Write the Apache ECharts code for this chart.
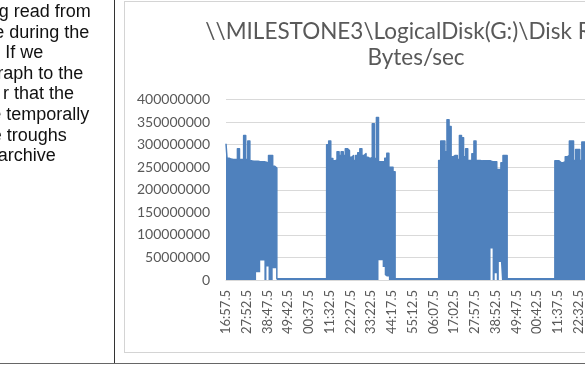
<!DOCTYPE html>
<html><head><meta charset="utf-8">
<script src="https://cdn.jsdelivr.net/npm/echarts@6/dist/echarts.min.js"></script>
<style>
html,body{margin:0;padding:0;width:585px;height:367px;overflow:hidden;background:#fff;position:relative}
#frame{position:absolute;left:124px;top:1px;width:700px;height:352px;border:1px solid #d4d4d4;box-sizing:border-box}
#chart{position:absolute;left:0;top:0;width:600px;height:367px}
#vline{position:absolute;left:114px;top:0;width:1px;height:364px;background:#333}
#hline{position:absolute;left:0;top:363px;width:585px;height:1px;background:#666}
.t{position:absolute;font-family:"Liberation Sans",Arial,sans-serif;font-size:18px;color:#111;white-space:nowrap;line-height:20px}
</style></head>
<body>
<div id="frame"></div>
<div id="chart"></div>
<div id="vline"></div>
<div id="hline"></div>
<div id="txt"></div>
<script>
// Left cell text fragments (visible parts) and where each line ends
const textLines = ['g read from', 'e during the', 'If we', 'raph to the', 'r that the', 'e temporally', 'e troughs', 'archive'];
const textEnds = [90.7, 89.3, 43.3, 83.3, 74, 89.3, 66.7, 55.7];

// Chart title and axis tick labels
const titleText = '\\\\MILESTONE3\\LogicalDisk(G:)\\Disk Read\nBytes/sec';
const tickLabels = ['16:57.5','27:52.5','38:47.5','49:42.5','00:37.5','11:32.5','22:27.5','33:22.5','44:17.5','55:12.5','06:07.5','17:02.5','27:57.5','38:52.5','49:47.5','00:42.5','11:37.5','22:32.5'];
const yTicks = [0, 50000000, 100000000, 150000000, 200000000, 250000000, 300000000, 350000000, 400000000];

// Disk Read Bytes/sec envelope, in millions (upper = peaks, lower = troughs)
const burst1High = [302,270,268,267,267,267,291,267,267,320,267,308,264,263,263,263,262,262,262,261,259,276,276,252,248];
const burst1Low  = [0,0,0,0,0,0,0,0,0,0,0,0,0,0,0,17,17,43,43,0,30,0,0,26,26];
const idle1High  = [3,3,3,3,3,3,3,3,3,3,3,3,3,3,3,3,3,3,3,3,3,3,3,3];
const idle1Low   = [0,0,0,0,0,0,0,0,0,0,0,0,0,0,0,0,0,0,0,0,0,0,0,0];
const burst2High = [300,308,269,264,266,284,276,284,276,291,287,272,276,265,276,282,291,276,280,272,269,272,346,269,360,262,262,262,270,281,250,250,240];
const burst2Low  = [0,0,0,0,0,0,0,0,0,0,0,0,0,0,0,0,0,0,0,0,0,0,0,0,0,44,44,29,11,8,0,0,0];
const idle2High  = [3,3,3,3,3,3,3,3,3,3,3,3,3,3,3,3,3,3,3,3,3];
const idle2Low   = [0,0,0,0,0,0,0,0,0,0,0,0,0,0,0,0,0,0,0,0,0];
const burst3High = [265,308,308,284,355,340,273,276,276,267,320,315,273,291,265,265,280,308,265,265,264,264,264,264,264,262,262,262,245,245,260,276,276];
const burst3Low  = [0,0,0,0,0,0,0,0,0,0,0,0,0,0,0,0,0,0,0,0,0,0,0,0,0,70,0,15,0,40,0,0,0];
const idle3High  = [3,3,3,3,3,3,3,3,3,3,3,3,3,3,3,3,3,3,3,3,3,3,3];
const idle3Low   = [0,0,0,0,0,0,0,0,0,0,0,0,0,0,0,0,0,0,0,0,0,0,0];
const burst4High = [264,264,260,260,262,273,276,308,308,265,289,289,265,306,306,306,270];
const burst4Low  = [0,0,0,0,0,0,0,0,0,0,0,0,0,0,0,0,0];

// left-cell text
const txt = document.getElementById('txt');
textLines.forEach((s, i) => {
  const d = document.createElement('div');
  d.className = 't';
  d.textContent = s;
  d.style.right = (585 - textEnds[i]) + 'px';
  d.style.top = (1 + 20.6 * i) + 'px';
  txt.appendChild(d);
});

const M = 1000000;
const high = [].concat(burst1High, idle1High, burst2High, idle2High, burst3High, idle3High, burst4High).map(v => v * M);
const low = [].concat(burst1Low, idle1Low, burst2Low, idle2Low, burst3Low, idle3Low, burst4Low).map(v => v * M);
const band = high.map((h, i) => h - low[i]);

// categories: 65.5 s steps, every 10th one is a shown tick label
const startSec = 16 * 60 + 57.5;
const categories = high.map((_, i) => {
  if (i % 10 === 0 && tickLabels[i / 10]) return tickLabels[i / 10];
  const s = (startSec + i * 65.5) % 3600;
  const mm = Math.floor(s / 60), ss = s - mm * 60;
  return String(mm).padStart(2, '0') + ':' + ss.toFixed(1).padStart(4, '0');
});

const chart = echarts.init(document.getElementById('chart'), null, {renderer: 'canvas'});
const blue = '#4f81bd';
chart.setOption({
  animation: false,
  backgroundColor: 'transparent',
  title: {
    text: titleText,
    left: 411,
    top: 14,
    textAlign: 'center',
    textStyle: {fontFamily: 'Lato', fontSize: 22.5, fontWeight: 'normal', color: '#595959', lineHeight: 26}
  },
  grid: {left: 226, right: 10.9, top: 99.5, bottom: 87, containLabel: false},
  xAxis: {
    type: 'category',
    data: categories,
    boundaryGap: false,
    axisLine: {show: true, lineStyle: {color: '#d9d9d9'}},
    axisTick: {show: false},
    splitLine: {show: false},
    axisLabel: {interval: 9, rotate: 90, margin: 10, fontFamily: 'Lato', fontSize: 13, color: '#595959'}
  },
  yAxis: {
    type: 'value',
    min: yTicks[0],
    max: yTicks[yTicks.length - 1],
    interval: yTicks[1] - yTicks[0],
    axisLine: {show: false},
    axisTick: {show: false},
    splitLine: {lineStyle: {color: '#d9d9d9', width: 1}},
    axisLabel: {margin: 16, fontFamily: 'Lato', fontSize: 14, color: '#595959', formatter: v => String(v)}
  },
  series: [
    {
      type: 'line', stack: 'r', data: low, step: 'middle', showSymbol: false, silent: true,
      lineStyle: {opacity: 0, width: 0}
    },
    {
      name: 'Disk Read Bytes/sec',
      type: 'line', stack: 'r', data: band, step: 'middle', showSymbol: false, silent: true,
      lineStyle: {color: blue, width: 1.5, join: 'round'},
      areaStyle: {color: blue, opacity: 1}
    }
  ]
});
</script>
</body></html>
